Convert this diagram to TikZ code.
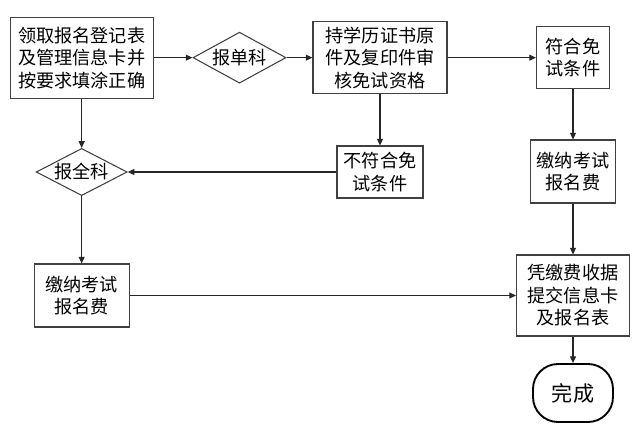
\documentclass[tikz,border=0pt]{standalone}
\usepackage{fontspec}
\setmainfont{Noto Sans CJK SC}
\usetikzlibrary{shapes.geometric,arrows.meta}

\tikzset{
  stepbox/.style={draw=black!75,line width=0.9pt,align=center,inner sep=0pt,
    font=\fontsize{15.5}{19.2}\selectfont},
  choice/.style={diamond,aspect=1.8,draw=black!75,line width=0.9pt,inner sep=0pt,
    font=\fontsize{15.5}{19.2}\selectfont},
  finish/.style={draw=black,line width=1.6pt,rounded corners=0.75cm,inner sep=0pt,
    font=\fontsize{18}{21}\selectfont},
  flow/.style={-{Triangle[length=2mm,width=1.8mm]},line width=0.9pt,draw=black!85}
}

\begin{document}
\begin{tikzpicture}
\useasboundingbox (0.000,0.000) rectangle (19.110,-12.870);
% top row
\node[stepbox,minimum width=4.29cm,minimum height=2.43cm] (apply) at (2.450,-1.730) {领取报名登记表\\及管理信息卡并\\按要求填涂正确};
\node[choice,minimum width=2.79cm,minimum height=1.53cm] (single) at (7.185,-1.730) {报单科};
\node[stepbox,minimum width=4.02cm,minimum height=2.16cm] (check) at (11.400,-1.730) {持学历证书原\\件及复印件审\\核免试资格};
\node[stepbox,minimum width=2.19cm,minimum height=1.86cm] (pass) at (17.190,-1.730) {符合免\\试条件};
% middle row
\node[choice,minimum width=2.73cm,minimum height=1.41cm] (all) at (2.450,-5.160) {报全科};
\node[stepbox,minimum width=2.58cm,minimum height=1.56cm] (fail) at (11.400,-5.160) {不符合免\\试条件};
\node[stepbox,minimum width=2.55cm,minimum height=1.89cm] (payR) at (17.190,-5.145) {缴纳考试\\报名费};
% bottom row
\node[stepbox,minimum width=2.85cm,minimum height=1.89cm] (payL) at (2.450,-8.865) {缴纳考试\\报名费};
\node[stepbox,minimum width=3.39cm,minimum height=2.43cm] (submit) at (17.190,-8.865) {凭缴费收据\\提交信息卡\\及报名表};
\node[finish,minimum width=2.40cm,minimum height=1.74cm] (done) at (17.190,-11.790) {完成};

% connectors
\draw[flow] (apply) -- (single);
\draw[flow] (single) -- (check);
\draw[flow] (check) -- (pass);
\draw[flow] (pass) -- (payR);
\draw[flow] (payR) -- (submit);
\draw[flow] (submit) -- (done);
\draw[flow] (apply) -- (all);
\draw[flow] (check) -- (fail);
\draw[flow] (fail) -- (all);
\draw[flow] (all) -- (payL);
\draw[flow] (payL) -- (submit);
\end{tikzpicture}
\end{document}
